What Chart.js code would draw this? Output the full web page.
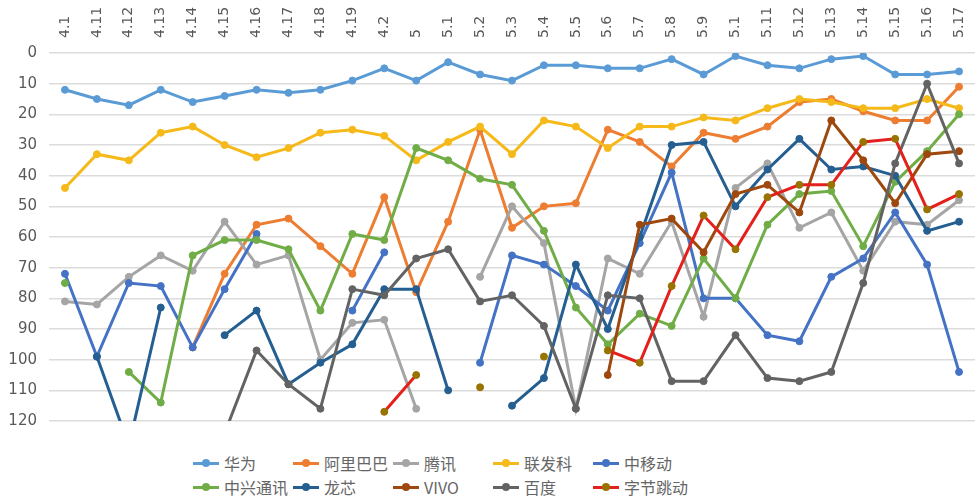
<!DOCTYPE html>
<html>
<head>
<meta charset="utf-8">
<script src="https://cdn.jsdelivr.net/npm/chart.js@4/dist/chart.umd.min.js"></script>
<style>
    html, body { margin: 0; padding: 0; background: #fff; }
    #wrap { position: relative; width: 980px; height: 497px; overflow: hidden; }
    #chart { position: absolute; left: 0; top: 0; }
    #legend {
        position: absolute; left: 193px; top: 451px;
        display: grid; grid-template-columns: repeat(5, 100px); grid-auto-rows: 24px;
        font-family: "Noto Sans CJK SC", sans-serif; font-size: 16px; color: #666;
    }
    .item { display: flex; align-items: center; white-space: nowrap; }
    .swatch { position: relative; width: 26px; height: 3px; margin-right: 5px; }
    .swatch i { position: absolute; left: 9px; top: -2.5px; width: 8px; height: 8px; border-radius: 50%; }
</style>
</head>
<body>
<div id="wrap">
    <canvas id="chart" width="980" height="442"></canvas>
    <div id="legend"></div>
</div>
<script>
const categories = ['4.1', '4.11', '4.12', '4.13', '4.14', '4.15', '4.16', '4.17', '4.18', '4.19',
    '4.2', '5', '5.1', '5.2', '5.3', '5.4', '5.5', '5.6', '5.7', '5.8', '5.9',
    '5.1', '5.11', '5.12', '5.13', '5.14', '5.15', '5.16', '5.17'];

const huawei = [12, 15, 17, 12, 16, 14, 12, 13, 12, 9, 5, 9, 3, 7, 9, 4, 4, 5, 5, 2, 7, 1, 4, 5, 2, 1, 7, 7, 6];
const alibaba = [null, null, null, null, 96, 72, 56, 54, 63, 72, 47, 78, 55, 25, 57, 50, 49, 25, 29, 37, 26, 28, 24, 16, 15, 19, 22, 22, 11];
const tencent = [81, 82, 73, 66, 71, 55, 69, 66, 100, 88, 87, 116, null, 73, 50, 62, 116, 67, 72, 55, 86, 44, 36, 57, 52, 71, 55, 56, 48];
const mediatek = [44, 33, 35, 26, 24, 30, 34, 31, 26, 25, 27, 35, 29, 24, 33, 22, 24, 31, 24, 24, 21, 22, 18, 15, 16, 18, 18, 15, 18];
const chinaMobile = [72, 99, 75, 76, 96, 77, 59, null, null, 84, 65, null, null, 101, 66, 69, 76, 84, 62, 39, 80, 80, 92, 94, 73, 67, 52, 69, 104];
const zte = [75, null, 104, 114, 66, 61, 61, 64, 84, 59, 61, 31, 35, 41, 43, 58, 83, 95, 85, 89, 67, 80, 56, 46, 45, 63, 42, 32, 20];
const loongson = [null, 99, 128, 83, null, 92, 84, 108, 101, 95, 77, 77, 110, null, 115, 106, 69, 90, 60, 30, 29, 50, 38, 28, 38, 37, 40, 58, 55];
const vivo = [null, null, null, null, null, null, null, null, null, null, null, null, null, null, null, null, null, 105, 56, 54, 65, 46, 43, 52, 22, 35, 49, 33, 32];
const baidu = [null, null, null, null, null, 124, 97, 108, 116, 77, 79, 67, 64, 81, 79, 89, 116, 79, 80, 107, 107, 92, 106, 107, 104, 75, 36, 10, 36];
const bytedance = [null, null, null, null, null, null, null, null, null, null, 117, 105, null, 109, null, 99, null, 97, 101, 76, 53, 64, 47, 43, 43, 29, 28, 51, 46];

const yTicks = [0, 10, 20, 30, 40, 50, 60, 70, 80, 90, 100, 110, 120];

const series = [
    { name: '华为', data: huawei, line: '#5b9bd5', dot: '#5b9bd5' },
    { name: '阿里巴巴', data: alibaba, line: '#ed7d31', dot: '#ed7d31' },
    { name: '腾讯', data: tencent, line: '#a5a5a5', dot: '#a5a5a5' },
    { name: '联发科', data: mediatek, line: '#f5b919', dot: '#f5b919' },
    { name: '中移动', data: chinaMobile, line: '#4472c4', dot: '#4472c4' },
    { name: '中兴通讯', data: zte, line: '#70ad47', dot: '#70ad47' },
    { name: '龙芯', data: loongson, line: '#255e91', dot: '#255e91' },
    { name: 'VIVO', data: vivo, line: '#9e480e', dot: '#9e480e' },
    { name: '百度', data: baidu, line: '#636363', dot: '#636363' },
    { name: '字节跳动', data: bytedance, line: '#e3201b', dot: '#997300' }
];

// x labels at the top, rotated to read bottom-to-top
const topLabels = {
    id: 'topLabels',
    afterDraw(chart) {
        const c = chart.ctx, x = chart.scales.x, top = chart.chartArea.top;
        c.save();
        c.font = '14px "DejaVu Sans"';
        c.fillStyle = '#595959';
        c.textAlign = 'left';
        c.textBaseline = 'middle';
        categories.forEach((lab, i) => {
            c.save();
            c.translate(x.getPixelForValue(i), top - 15);
            c.rotate(-Math.PI / 2);
            c.fillText(lab, 0, 0);
            c.restore();
        });
        c.restore();
    }
};

const ctx = document.getElementById('chart').getContext('2d');
new Chart(ctx, {
    type: 'line',
    data: {
        labels: categories,
        datasets: series.map((s, i) => ({
            label: s.name,
            data: s.data,
            borderColor: s.line,
            backgroundColor: s.dot,
            pointBackgroundColor: s.dot,
            pointBorderColor: s.dot,
            borderWidth: 3,
            pointRadius: 3.5,
            pointBorderWidth: 1,
            tension: 0,
            order: series.length - i
        }))
    },
    options: {
        responsive: false,
        animation: false,
        layout: { padding: { top: 8, right: 0, bottom: 10, left: 0 } },
        plugins: { legend: { display: false }, tooltip: { enabled: false } },
        scales: {
            x: {
                position: 'top',
                offset: true,
                grid: { display: false },
                border: { display: false },
                ticks: { display: false },
                afterFit(scale) { scale.height = 45; }
            },
            y: {
                reverse: true,
                min: yTicks[0],
                max: yTicks[yTicks.length - 1],
                afterBuildTicks(scale) { scale.ticks = yTicks.map(v => ({ value: v })); },
                grid: { color: '#dcdcdc', lineWidth: 1.5, drawTicks: false },
                border: { display: false },
                ticks: { padding: 12, color: '#595959', font: { family: 'DejaVu Sans', size: 15 } },
                afterFit(scale) { scale.width = 49; }
            }
        }
    },
    plugins: [topLabels]
});

const legend = document.getElementById('legend');
series.forEach(s => {
    const item = document.createElement('div');
    item.className = 'item';
    item.innerHTML = '<span class="swatch" style="background:' + s.line + '"><i style="background:' + s.dot + '"></i></span>' + s.name;
    legend.appendChild(item);
});
</script>
</body>
</html>
